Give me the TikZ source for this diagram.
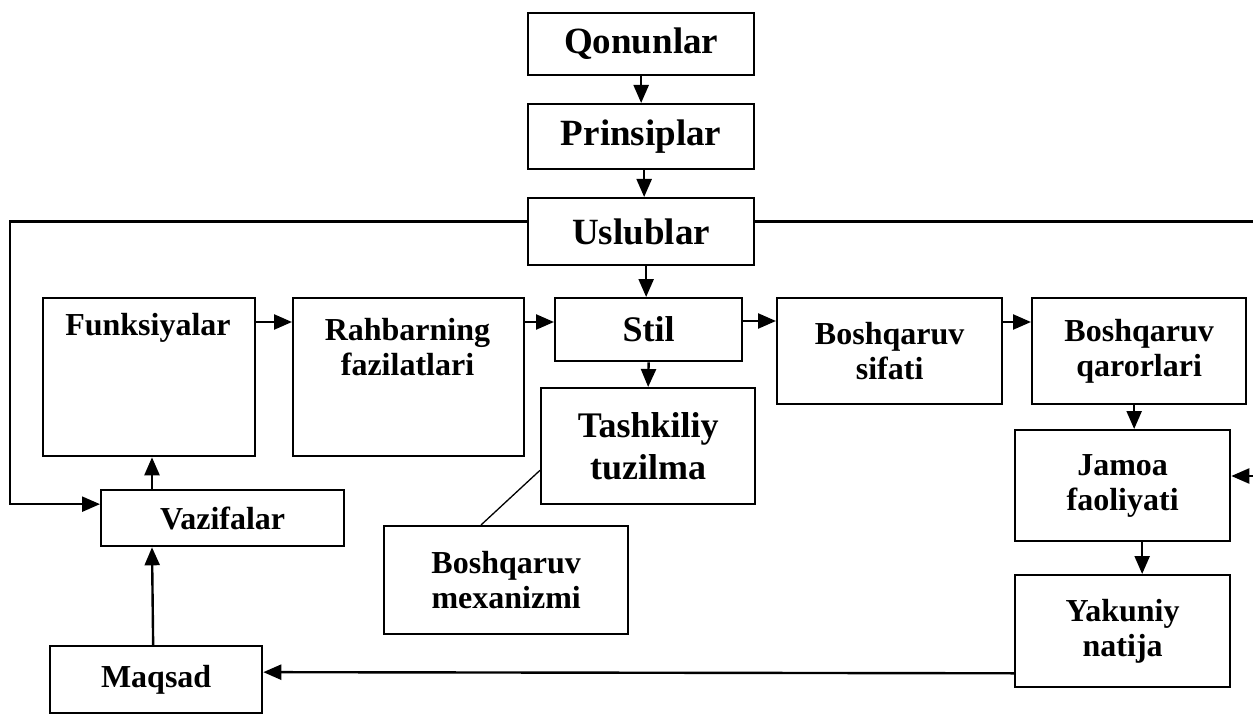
\documentclass[tikz,border=0pt]{standalone}
\usepackage{fontspec}
\setmainfont{Liberation Serif}
\usetikzlibrary{arrows.meta}
\begin{document}
\begin{tikzpicture}[x=1pt,y=-1pt,
  box/.style={draw, line width=2.3pt, inner sep=0pt, align=center, anchor=north west,
    font={\fontsize{32}{35}\selectfont\bfseries}},
  bigbox/.style={box, font={\fontsize{37}{42}\selectfont\bfseries}},
  midbox/.style={box, font={\fontsize{36}{42}\selectfont\bfseries}},
  lbl/.style={inner sep=0pt, align=center, font={\fontsize{32}{35}\selectfont\bfseries}},
  arr/.style={line width=2.4pt, -{Triangle[length=18pt,width=15pt]}},
  thin/.style={line width=1.3pt}]
\useasboundingbox[fill=white] (0,0) rectangle (1253,714);
% top column
\node[bigbox, minimum width=226pt, minimum height=62pt] (qon) at (527,12) {Qonunlar};
\node[bigbox, minimum width=226pt, minimum height=65pt] (pri) at (527,103) {Prinsiplar};
\node[bigbox, minimum width=226pt, minimum height=67pt] (usl) at (527,197) {Uslublar};
% main row
\node[box, minimum width=212pt, minimum height=158pt] (fun) at (42,297) {};
\node[lbl] (funt) at (148,328) {Funksiyalar};
\node[box, minimum width=231pt, minimum height=158pt] (rah) at (292,297) {};
\node[lbl] (raht) at (407.5,347) {Rahbarning\\fazilatlari};
\node[midbox, minimum width=187pt, minimum height=63pt] (sti) at (554,297) {Stil};
\node[box, minimum width=225pt, minimum height=106pt] (sif) at (776,297) {Boshqaruv\\sifati};
\node[box, minimum width=214pt, minimum height=106pt] (qar) at (1031,297) {Boshqaruv\\qarorlari};
% lower
\node[midbox, minimum width=214pt, minimum height=116pt] (tas) at (540,387) {Tashkiliy\\tuzilma};
\node[box, minimum width=244pt, minimum height=108pt] (mex) at (383,525) {Boshqaruv\\mexanizmi};
\node[box, minimum width=243pt, minimum height=56pt] (vaz) at (100,489) {Vazifalar};
\node[box, minimum width=215pt, minimum height=111pt] (jam) at (1014,429) {Jamoa\\faoliyati};
\node[box, minimum width=215pt, minimum height=112pt] (yak) at (1014,574) {Yakuniy\\natija};
\node[box, minimum width=212pt, minimum height=67pt] (maq) at (49,645) {Maqsad};
% vertical arrows
\draw[arr] (qon.south) -- (pri.north);
\draw[arr] ([xshift=3pt]pri.south) -- ([xshift=3pt]usl.north);
\draw[arr] ([xshift=5pt]usl.south) -- ([xshift=-2.5pt]sti.north);
\draw[arr] (sti.south) -- (tas.north);
% horizontal row arrows
\draw[arr] ([yshift=-25pt]fun.north east) -- ([yshift=-25pt]rah.north west);
\draw[arr] ([yshift=-25pt]rah.north east) -- ([yshift=-25pt]sti.north west);
\draw[arr] ([yshift=-24pt]sti.north east) -- ([yshift=-24pt]sif.north west);
\draw[arr] ([yshift=-25pt]sif.north east) -- ([yshift=-25pt]qar.north west);
% right column
\draw[arr] ([xshift=-5pt]qar.south) -- ([xshift=11.5pt]jam.north);
\draw[arr] ([xshift=19.5pt]jam.south) -- ([xshift=19.5pt]yak.north);
\draw[arr] ([yshift=15pt]yak.south west) -- ([yshift=7.5pt]maq.east);
% left column
\draw[arr] ([xshift=-3pt]maq.north) -- ([xshift=52pt]vaz.south west);
\draw[arr] ([xshift=52pt]vaz.north west) -- ([xshift=110pt]fun.south west);
% feedback lines from Uslublar
\draw[arr] ([yshift=10pt]usl.west) -- ++(-517,0) |- ([yshift=14pt]vaz.west);
\coordinate (redge) at (1262,476);
\draw[arr] ([yshift=10pt]usl.east) -| (redge) -- (jam.east |- redge);
% mechanism link
\draw[thin] ([xshift=98pt]mex.north west) -- ([yshift=35pt]tas.south west);
\end{tikzpicture}
\end{document}
